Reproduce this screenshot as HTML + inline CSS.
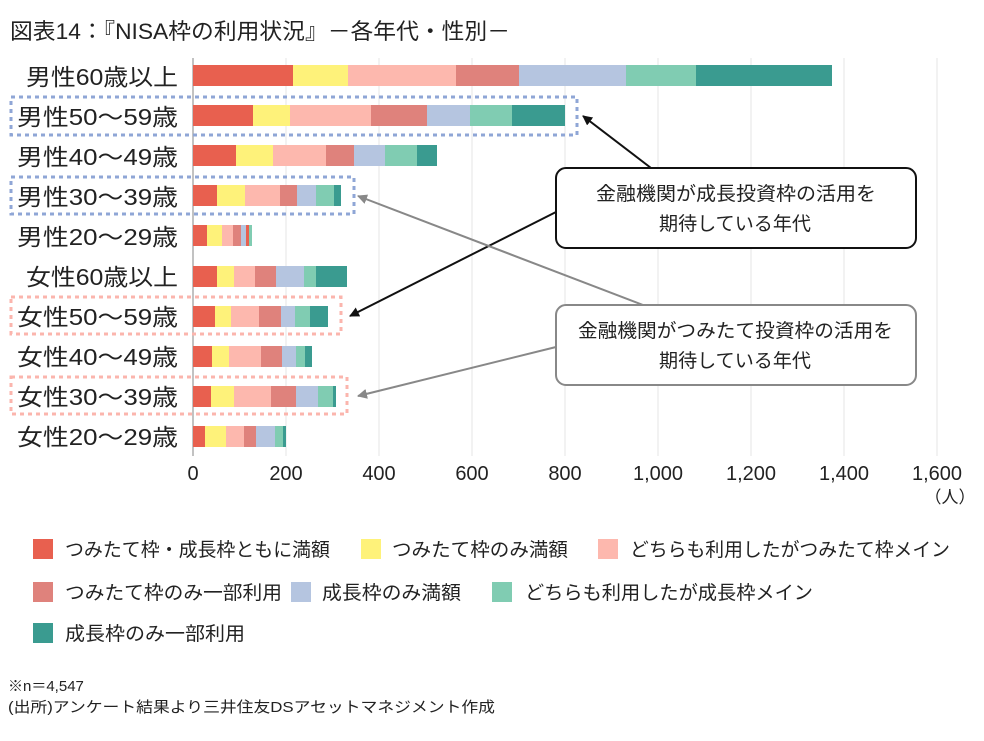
<!DOCTYPE html>
<html><head><meta charset="utf-8"><style>
body{margin:0;background:#fff;}
svg text{font-family:"Liberation Sans","Noto Sans CJK JP",sans-serif;fill:#222;}
</style></head><body>
<svg width="984" height="736" viewBox="0 0 984 736" xmlns="http://www.w3.org/2000/svg">
<defs>
<marker id="ab" markerWidth="10" markerHeight="10" refX="9" refY="5" orient="auto" markerUnits="userSpaceOnUse"><path d="M0,0 L10,5 L0,10 z" fill="#111"/></marker>
<marker id="ag" markerWidth="10" markerHeight="10" refX="9" refY="5" orient="auto" markerUnits="userSpaceOnUse"><path d="M0,0 L10,5 L0,10 z" fill="#888"/></marker>
</defs>
<text x="10" y="39" font-size="22" textLength="500" lengthAdjust="spacingAndGlyphs">図表14：『NISA枠の利用状況』－各年代・性別－</text>
<g stroke="#e6e6e6" stroke-width="1">
<line x1="286" y1="58" x2="286" y2="456"/><line x1="379" y1="58" x2="379" y2="456"/><line x1="472" y1="58" x2="472" y2="456"/><line x1="565" y1="58" x2="565" y2="456"/><line x1="658" y1="58" x2="658" y2="456"/><line x1="751" y1="58" x2="751" y2="456"/><line x1="844" y1="58" x2="844" y2="456"/><line x1="937" y1="58" x2="937" y2="456"/>
</g>
<line x1="193" y1="58" x2="193" y2="456" stroke="#999" stroke-width="1.2"/>
<g font-size="23">
<text x="26" y="85" textLength="152" lengthAdjust="spacingAndGlyphs">男性60歳以上</text><text x="17" y="125" textLength="161" lengthAdjust="spacingAndGlyphs">男性50～59歳</text><text x="17" y="165" textLength="161" lengthAdjust="spacingAndGlyphs">男性40～49歳</text><text x="17" y="205" textLength="161" lengthAdjust="spacingAndGlyphs">男性30～39歳</text><text x="17" y="245" textLength="161" lengthAdjust="spacingAndGlyphs">男性20～29歳</text>
<text x="26" y="285" textLength="152" lengthAdjust="spacingAndGlyphs">女性60歳以上</text><text x="17" y="325" textLength="161" lengthAdjust="spacingAndGlyphs">女性50～59歳</text><text x="17" y="365" textLength="161" lengthAdjust="spacingAndGlyphs">女性40～49歳</text><text x="17" y="405" textLength="161" lengthAdjust="spacingAndGlyphs">女性30～39歳</text><text x="17" y="445" textLength="161" lengthAdjust="spacingAndGlyphs">女性20～29歳</text>
</g>
<g fill="none" stroke-width="3" stroke-dasharray="4,4">
<rect x="11" y="97" width="566" height="38" stroke="#8fa6d6"/>
<rect x="11" y="177" width="343" height="37" stroke="#8fa6d6"/>
<rect x="11" y="297" width="330" height="37" stroke="#fbb5ad"/>
<rect x="11" y="377" width="336" height="37" stroke="#fbb5ad"/>
</g>
<g font-size="20" text-anchor="middle">
<text x="193" y="480">0</text><text x="286" y="480">200</text><text x="379" y="480">400</text><text x="472" y="480">600</text><text x="565" y="480">800</text><text x="658" y="480">1,000</text><text x="751" y="480">1,200</text><text x="844" y="480">1,400</text><text x="937" y="480">1,600</text>
</g>
<text x="950" y="503" font-size="17" text-anchor="middle">（人）</text>
<line x1="651" y1="168" x2="583" y2="116" stroke="#111" stroke-width="2" marker-end="url(#ab)"/>
<line x1="556" y1="212" x2="350" y2="316" stroke="#111" stroke-width="2" marker-end="url(#ab)"/>
<line x1="643" y1="305" x2="358" y2="196" stroke="#888" stroke-width="2" marker-end="url(#ag)"/>
<line x1="556" y1="347" x2="358" y2="396" stroke="#888" stroke-width="2" marker-end="url(#ag)"/>
<rect x="556" y="168" width="360" height="80" rx="10" fill="#fff" stroke="#111" stroke-width="2"/>
<rect x="556" y="305" width="360" height="80" rx="10" fill="#fff" stroke="#888" stroke-width="2"/>
<g font-size="19">
<text x="596" y="200" textLength="280" lengthAdjust="spacingAndGlyphs">金融機関が成長投資枠の活用を</text><text x="659" y="230" textLength="152" lengthAdjust="spacingAndGlyphs">期待している年代</text>
<text x="578" y="337" textLength="315" lengthAdjust="spacingAndGlyphs">金融機関がつみたて投資枠の活用を</text><text x="659" y="367" textLength="152" lengthAdjust="spacingAndGlyphs">期待している年代</text>
</g>
<g font-size="19">
<rect x="33" y="539" width="20" height="20" fill="#e8604f"/><text x="65" y="556" textLength="265" lengthAdjust="spacingAndGlyphs">つみたて枠・成長枠ともに満額</text>
<rect x="361" y="539" width="20" height="20" fill="#fef27a"/><text x="392" y="556" textLength="176" lengthAdjust="spacingAndGlyphs">つみたて枠のみ満額</text>
<rect x="598" y="539" width="20" height="20" fill="#fdb8ae"/><text x="630" y="556" textLength="320" lengthAdjust="spacingAndGlyphs">どちらも利用したがつみたて枠メイン</text>
<rect x="33" y="582" width="20" height="20" fill="#df827c"/><text x="65" y="599" textLength="217" lengthAdjust="spacingAndGlyphs">つみたて枠のみ一部利用</text>
<rect x="291" y="582" width="20" height="20" fill="#b5c5e0"/><text x="322" y="599" textLength="139" lengthAdjust="spacingAndGlyphs">成長枠のみ満額</text>
<rect x="492" y="582" width="20" height="20" fill="#80ccb2"/><text x="525" y="599" textLength="288" lengthAdjust="spacingAndGlyphs">どちらも利用したが成長枠メイン</text>
<rect x="33" y="623" width="20" height="20" fill="#3a9b90"/><text x="65" y="640" textLength="180" lengthAdjust="spacingAndGlyphs">成長枠のみ一部利用</text>
</g>
<text x="8" y="691" font-size="15">※n＝4,547</text>
<text x="8" y="712" font-size="15" textLength="487" lengthAdjust="spacingAndGlyphs">(出所)アンケート結果より三井住友DSアセットマネジメント作成</text>
<g>
<g transform="translate(0,65)">
<rect x="193" width="100" height="21" fill="#e8604f"/><rect x="293" width="55" height="21" fill="#fef27a"/><rect x="348" width="108" height="21" fill="#fdb8ae"/><rect x="456" width="63" height="21" fill="#df827c"/><rect x="519" width="107" height="21" fill="#b5c5e0"/><rect x="626" width="70" height="21" fill="#80ccb2"/><rect x="696" width="136" height="21" fill="#3a9b90"/></g>
<g transform="translate(0,105)">
<rect x="193" width="60" height="21" fill="#e8604f"/><rect x="253" width="37" height="21" fill="#fef27a"/><rect x="290" width="81" height="21" fill="#fdb8ae"/><rect x="371" width="56" height="21" fill="#df827c"/><rect x="427" width="43" height="21" fill="#b5c5e0"/><rect x="470" width="42" height="21" fill="#80ccb2"/><rect x="512" width="53" height="21" fill="#3a9b90"/></g>
<g transform="translate(0,145)">
<rect x="193" width="43" height="21" fill="#e8604f"/><rect x="236" width="37" height="21" fill="#fef27a"/><rect x="273" width="53" height="21" fill="#fdb8ae"/><rect x="326" width="28" height="21" fill="#df827c"/><rect x="354" width="31" height="21" fill="#b5c5e0"/><rect x="385" width="32" height="21" fill="#80ccb2"/><rect x="417" width="20" height="21" fill="#3a9b90"/></g>
<g transform="translate(0,185)">
<rect x="193" width="24" height="21" fill="#e8604f"/><rect x="217" width="28" height="21" fill="#fef27a"/><rect x="245" width="35" height="21" fill="#fdb8ae"/><rect x="280" width="17" height="21" fill="#df827c"/><rect x="297" width="19" height="21" fill="#b5c5e0"/><rect x="316" width="18" height="21" fill="#80ccb2"/><rect x="334" width="7" height="21" fill="#3a9b90"/></g>
<g transform="translate(0,225)">
<rect x="193" width="14" height="21" fill="#e8604f"/><rect x="207" width="15" height="21" fill="#fef27a"/><rect x="222" width="11" height="21" fill="#fdb8ae"/><rect x="233" width="8" height="21" fill="#df827c"/><rect x="241" width="5" height="21" fill="#b5c5e0"/><rect x="246" width="3" height="21" fill="#e8604f"/><rect x="249" width="3" height="21" fill="#80ccb2"/></g>
<g transform="translate(0,266)">
<rect x="193" width="24" height="21" fill="#e8604f"/><rect x="217" width="17" height="21" fill="#fef27a"/><rect x="234" width="21" height="21" fill="#fdb8ae"/><rect x="255" width="21" height="21" fill="#df827c"/><rect x="276" width="28" height="21" fill="#b5c5e0"/><rect x="304" width="12" height="21" fill="#80ccb2"/><rect x="316" width="31" height="21" fill="#3a9b90"/></g>
<g transform="translate(0,306)">
<rect x="193" width="22" height="21" fill="#e8604f"/><rect x="215" width="16" height="21" fill="#fef27a"/><rect x="231" width="28" height="21" fill="#fdb8ae"/><rect x="259" width="22" height="21" fill="#df827c"/><rect x="281" width="14" height="21" fill="#b5c5e0"/><rect x="295" width="15" height="21" fill="#80ccb2"/><rect x="310" width="18" height="21" fill="#3a9b90"/></g>
<g transform="translate(0,346)">
<rect x="193" width="19" height="21" fill="#e8604f"/><rect x="212" width="17" height="21" fill="#fef27a"/><rect x="229" width="32" height="21" fill="#fdb8ae"/><rect x="261" width="21" height="21" fill="#df827c"/><rect x="282" width="14" height="21" fill="#b5c5e0"/><rect x="296" width="9" height="21" fill="#80ccb2"/><rect x="305" width="7" height="21" fill="#3a9b90"/></g>
<g transform="translate(0,386)">
<rect x="193" width="18" height="21" fill="#e8604f"/><rect x="211" width="23" height="21" fill="#fef27a"/><rect x="234" width="37" height="21" fill="#fdb8ae"/><rect x="271" width="25" height="21" fill="#df827c"/><rect x="296" width="22" height="21" fill="#b5c5e0"/><rect x="318" width="15" height="21" fill="#80ccb2"/><rect x="333" width="3" height="21" fill="#3a9b90"/></g>
<g transform="translate(0,426)">
<rect x="193" width="12" height="21" fill="#e8604f"/><rect x="205" width="21" height="21" fill="#fef27a"/><rect x="226" width="18" height="21" fill="#fdb8ae"/><rect x="244" width="12" height="21" fill="#df827c"/><rect x="256" width="19" height="21" fill="#b5c5e0"/><rect x="275" width="8" height="21" fill="#80ccb2"/><rect x="283" width="3" height="21" fill="#3a9b90"/></g>
</g>
</svg>
</body></html>
